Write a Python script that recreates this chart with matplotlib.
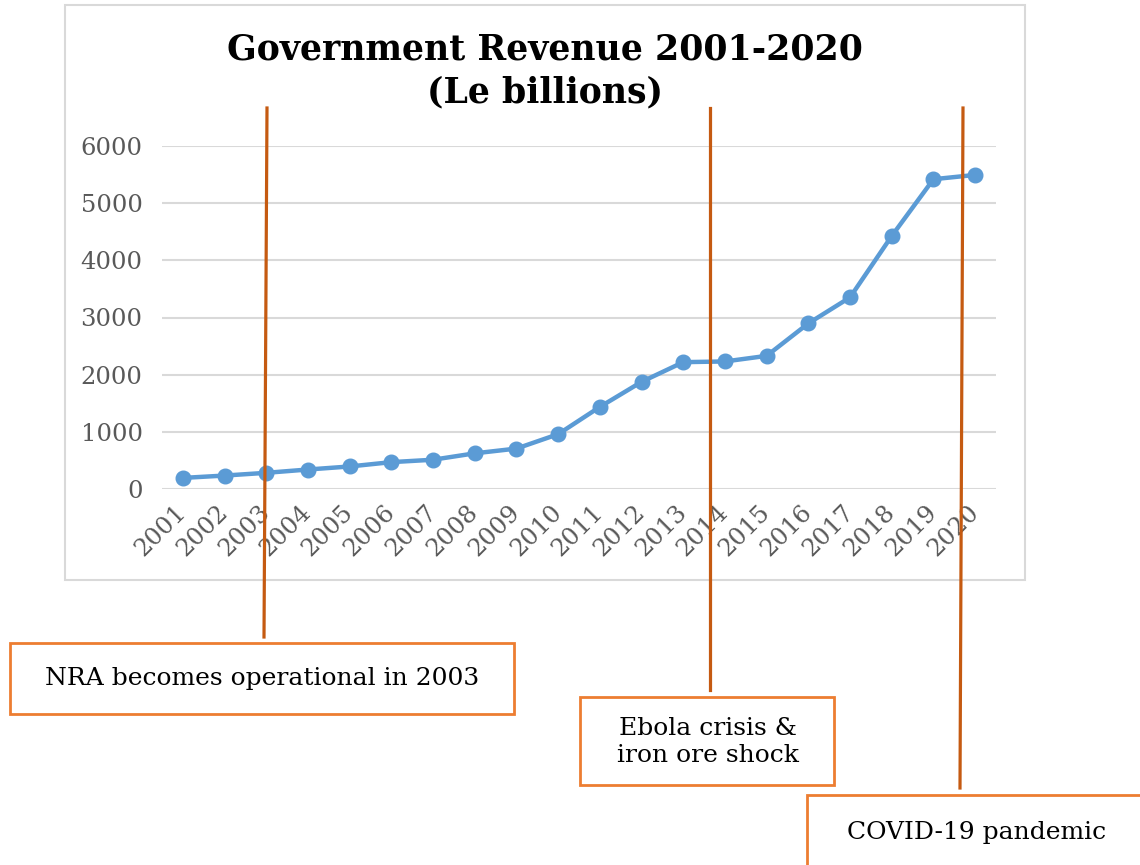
import numpy as np
import matplotlib
matplotlib.use("Agg")
import matplotlib.pyplot as plt
from matplotlib.lines import Line2D
from matplotlib.patches import Rectangle

years = [str(y) for y in range(2001, 2021)]
revenue = [194, 235, 283, 341, 394, 470, 512, 624, 707, 959,
           1436, 1874, 2219, 2231, 2329, 2897, 3352, 4426, 5419, 5494]

events = ["NRA becomes operational in 2003",
          "Ebola crisis &\niron ore shock",
          "COVID-19 pandemic"]

W, H = 1140, 865
plt.rcParams["font.family"] = ["DejaVu Serif"]

fig = plt.figure(figsize=(W / 100, H / 100), dpi=100)


def fx(x):
    return x / W


def fy(y):
    return 1 - y / H


# light grey chart frame
fig.add_artist(Rectangle((fx(65), fy(580)), fx(1025) - fx(65), fy(5) - fy(580),
                         transform=fig.transFigure, fill=False,
                         edgecolor="#D9D9D9", linewidth=1.5))

ax = fig.add_axes([fx(162), fy(489), fx(996) - fx(162), fy(146) - fy(489)])
x = np.arange(len(years))
ax.plot(x, revenue, color="#5B9BD5", linewidth=3.2, marker="o",
        markersize=10.5, zorder=3)
ax.set_xlim(-0.5, len(years) - 0.5)
ax.set_ylim(0, 6000)
ax.set_yticks(np.arange(0, 6001, 1000))
ax.set_xticks(x)
ax.set_xticklabels(years, rotation=45, ha="right", va="center",
                   rotation_mode="anchor")
ax.grid(axis="y", color="#D9D9D9", linewidth=1.5)
ax.set_axisbelow(True)
for s in ax.spines.values():
    s.set_visible(False)
ax.tick_params(axis="both", length=0, labelsize=17.5, labelcolor="#595959")
ax.tick_params(axis="y", pad=14)
ax.tick_params(axis="x", pad=14)

fig.text(fx(545), fy(71), "Government Revenue 2001-2020\n(Le billions)",
         ha="center", va="center", fontsize=25, fontweight="bold",
         linespacing=1.3)

# event markers: (top x, top y, bottom x, bottom y)
lines = [(267, 108, 264, 637), (710, 108, 710, 690), (963, 108, 960, 788)]
for x0, y0, x1, y1 in lines:
    fig.add_artist(Line2D([fx(x0), fx(x1)], [fy(y0), fy(y1)],
                          transform=fig.transFigure, color="#C55A11",
                          linewidth=2.3, zorder=5))

# annotation boxes: (left, top, right, bottom) in pixels, then text centre
boxes = [(10, 643, 514, 714), (580, 697, 834, 785), (807, 795, 1160, 890)]
text_xy = [(262, 679), (708, 742), (977, 832)]
for (l, t, r, b), label, (tx, ty) in zip(boxes, events, text_xy):
    fig.add_artist(Rectangle((fx(l), fy(b)), fx(r) - fx(l), fy(t) - fy(b),
                             transform=fig.transFigure, facecolor="white",
                             edgecolor="#ED7D31", linewidth=2, zorder=6))
    fig.text(fx(tx), fy(ty), label, ha="center", va="center", fontsize=18,
             color="#000000", linespacing=1.25, zorder=7)

fig.savefig("out.png", dpi=100)
